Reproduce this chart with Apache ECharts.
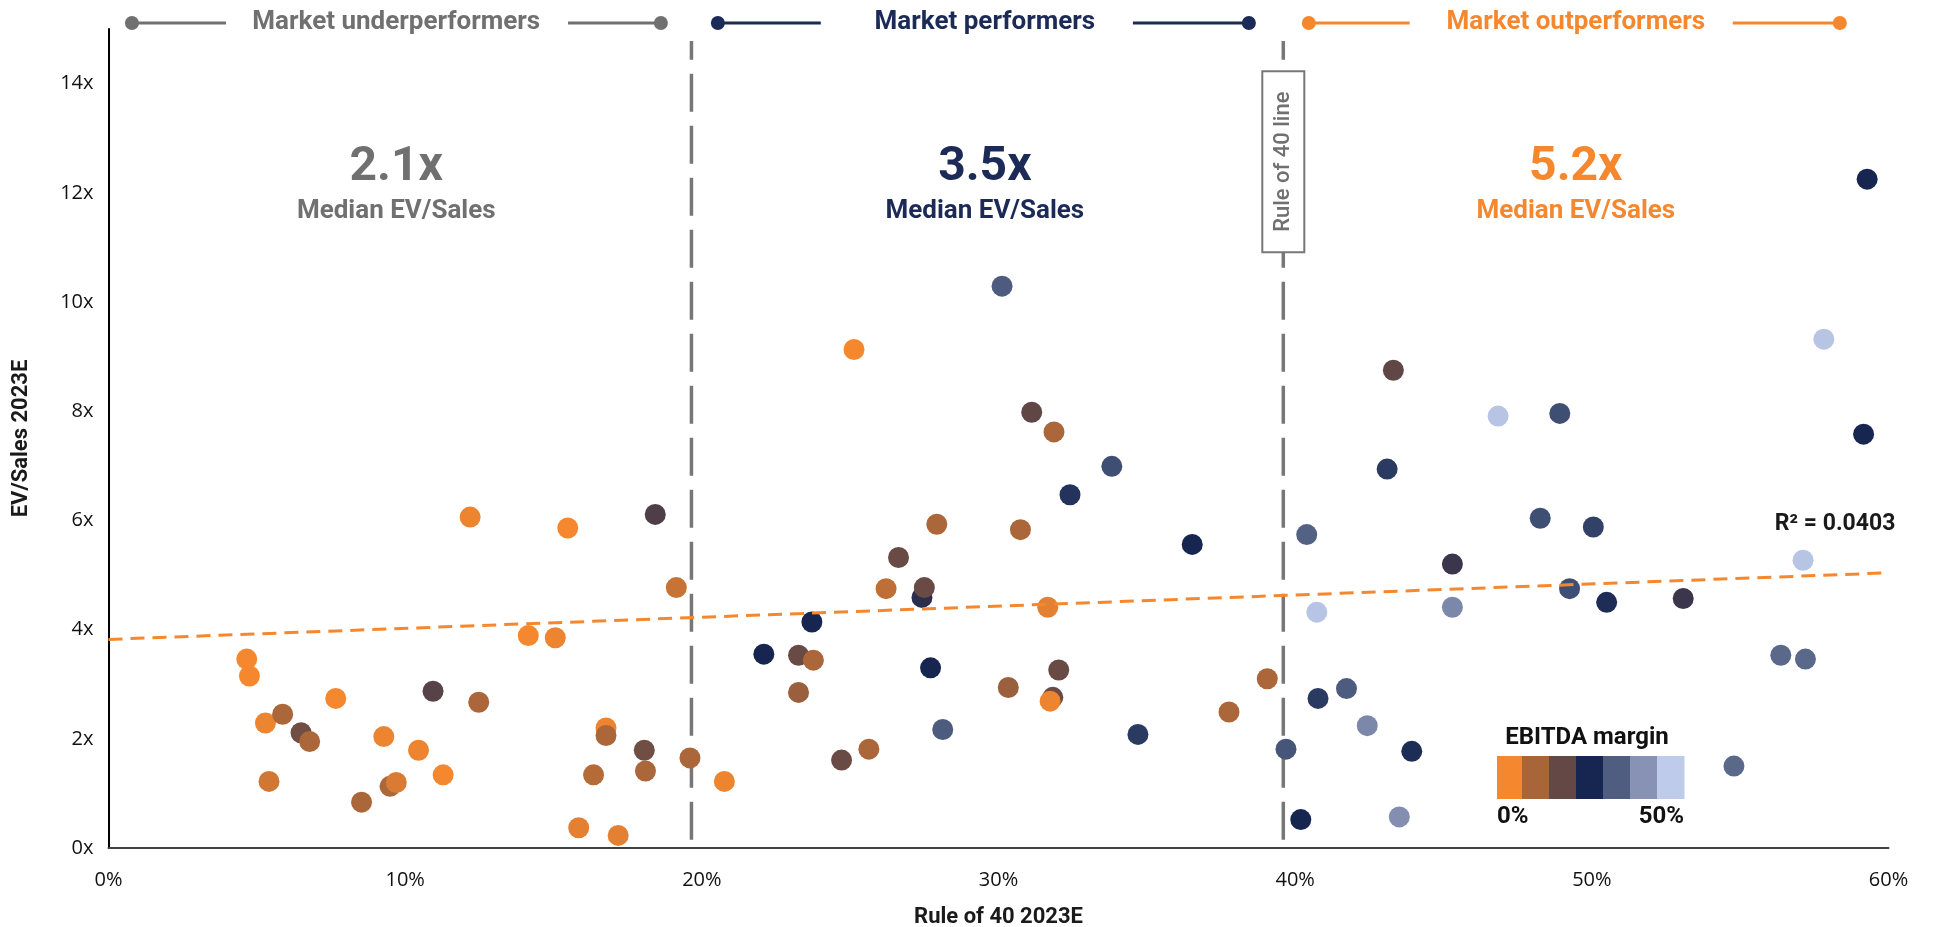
<!DOCTYPE html>
<html>
<head>
<meta charset="utf-8">
<script src="https://cdn.jsdelivr.net/npm/echarts@6/dist/echarts.min.js"></script>
<style>
  html, body { margin: 0; padding: 0; background: #ffffff; }
  #chart { width: 1935px; height: 927px; }
</style>
</head>
<body>
<div id="chart"></div>
<script>
// Rule of 40 score 2023E (%), one entry per company
const rule40 = [
  4.66, 4.75, 5.29, 5.41, 5.87, 6.49, 6.78, 7.66, 8.53, 9.28,
  9.49, 9.70, 10.45, 10.94, 11.28, 12.19, 12.48, 14.15, 15.06, 15.48,
  15.85, 16.35, 16.77, 16.77, 17.18, 18.06, 18.10, 18.43, 19.14, 19.60,
  20.76, 22.09, 23.26, 23.26, 23.71, 23.76, 24.71, 25.13, 25.63, 26.21,
  26.63, 27.42, 27.50, 27.71, 27.92, 28.12, 30.12, 30.33, 30.74, 31.12,
  31.66, 31.83, 31.74, 31.87, 32.03, 32.41, 33.82, 34.70, 36.53, 37.77,
  39.06, 39.69, 40.19, 40.39, 40.73, 40.77, 41.73, 42.43, 43.10, 43.31,
  43.51, 43.93, 45.30, 45.30, 46.84, 48.26, 48.92, 49.25, 50.05, 50.50,
  53.08, 54.79, 56.37, 57.20, 57.12, 57.82, 59.16, 59.28
];
// EV/Sales 2023E multiple, same order
const evSales = [
  3.46, 3.15, 2.29, 1.22, 2.45, 2.11, 1.95, 2.74, 0.84, 2.04,
  1.13, 1.20, 1.79, 2.87, 1.34, 6.06, 2.67, 3.89, 3.85, 5.86,
  0.37, 1.34, 2.20, 2.06, 0.23, 1.79, 1.41, 6.11, 4.77, 1.65,
  1.22, 3.55, 3.53, 2.85, 4.14, 3.44, 1.61, 9.13, 1.81, 4.75,
  5.32, 4.59, 4.77, 3.30, 5.93, 2.17, 10.29, 2.94, 5.83, 7.98,
  4.41, 2.76, 2.69, 7.62, 3.26, 6.47, 6.99, 2.08, 5.56, 2.49,
  3.10, 1.81, 0.52, 5.74, 4.32, 2.74, 2.92, 2.24, 6.94, 8.75,
  0.57, 1.77, 5.20, 4.41, 7.91, 6.04, 7.96, 4.75, 5.88, 4.50,
  4.57, 1.50, 3.53, 3.46, 5.27, 9.32, 7.58, 12.25
];
// EBITDA margin 2023E (%), same order
const ebitdaMargin = [
  0, 0, 1, 4, 8, 15, 8, 0, 8, 1,
  8, 3, 1, 18, 0, 1, 8, 0, 1, 0,
  2, 7, 1, 8, 2, 15, 8, 19, 5, 8,
  1, 25, 16, 10, 25, 8, 16, 0, 8, 6,
  16, 23, 16, 25, 8, 33, 33, 10, 8, 17,
  2, 16, 1, 8, 16, 27, 31, 28, 25, 8,
  8, 32, 25, 34, 49, 28, 33, 40, 28, 17,
  41, 26, 21, 40, 49, 31, 31, 31, 29, 26,
  21, 35, 35, 35, 49, 49, 25, 25
];

// Axis ticks
const xTickLabels = ['0%', '10%', '20%', '30%', '40%', '50%', '60%'];
const yTickLabels = ['0x', '2x', '4x', '6x', '8x', '10x', '12x', '14x'];

// Segments
const segmentNames = ['Market underperformers', 'Market performers', 'Market outperformers'];
const segmentMedians = ['2.1x', '3.5x', '5.2x'];
const segmentBounds = [19.65, 39.6];   // Rule of 40 split points (%)

// Linear trend of EV/Sales against Rule of 40
const trendStart = [0, 3.82];
const trendEnd = [60, 5.04];
const trendR2 = '0.0403';

// EBITDA margin colour ramp, 0% -> 50%
const marginColors = ['#f5882f', '#a8653a', '#634845', '#172650', '#4f5e80', '#8792b4', '#bfcbea'];
const segmentColors = ['#707070', '#1b2a56', '#f5882f'];

const chart = echarts.init(document.getElementById('chart'), null, { renderer: 'canvas' });

const points = rule40.map((x, i) => [x, evSales[i], ebitdaMargin[i]]);

const option = {
  backgroundColor: '#ffffff',
  animation: false,
  grid: { left: 108.5, right: 46.5, top: 29, bottom: 79, outerBoundsMode: 'none' },
  xAxis: {
    type: 'value', min: 0, max: 60, interval: 10,
    name: 'Rule of 40 2023E', nameLocation: 'middle', nameGap: 58,
    nameTextStyle: { fontFamily: 'Roboto', fontWeight: 'bold', fontSize: 22, color: '#1a1a1a' },
    axisLine: { show: true, lineStyle: { color: '#404040', width: 2 } },
    axisTick: { show: false },
    splitLine: { show: false },
    axisLabel: {
      margin: 22, fontFamily: 'Open Sans', fontSize: 20, color: '#111111',
      formatter: v => xTickLabels[Math.round(v / 10)] || ''
    }
  },
  yAxis: {
    type: 'value', min: 0, max: 15, interval: 2,
    name: 'EV/Sales 2023E', nameLocation: 'middle', nameGap: 76, nameRotate: 90,
    nameTextStyle: { fontFamily: 'Roboto', fontWeight: 'bold', fontSize: 22, color: '#1a1a1a' },
    axisLine: { show: true, lineStyle: { color: '#000000', width: 2 } },
    axisTick: { show: false },
    splitLine: { show: false },
    axisLabel: {
      margin: 15, fontFamily: 'Open Sans', fontSize: 20, color: '#111111',
      showMaxLabel: false,
      formatter: v => (v % 2 === 0 ? yTickLabels[v / 2] : '')
    }
  },
  visualMap: {
    show: false, type: 'continuous', seriesIndex: 0, dimension: 2,
    min: 0, max: 50, inRange: { color: marginColors }
  },
  series: [
    {
      name: 'Companies', type: 'scatter', data: points, symbolSize: 21, z: 3,
      itemStyle: { opacity: 1 }
    },
    {
      name: 'Boundary', type: 'line', symbol: 'none', z: 2, silent: true,
      data: [[segmentBounds[0], 0.15], [segmentBounds[0], 14.78]],
      lineStyle: { color: '#777777', width: 3.5, type: [38, 14] }
    },
    {
      name: 'Rule of 40 line', type: 'line', symbol: 'none', z: 2, silent: true,
      data: [[segmentBounds[1], 0.15], [segmentBounds[1], 14.78]],
      lineStyle: { color: '#777777', width: 3.5, type: [38, 14] }
    },
    {
      name: 'Trend', type: 'line', symbol: 'none', z: 4, silent: true,
      data: [trendStart, trendEnd],
      lineStyle: { color: '#f5882f', width: 3, type: [14, 8] }
    }
  ]
};

chart.setOption(option);

// Annotations placed in data coordinates
const px = (x, y) => chart.convertToPixel({ gridIndex: 0 }, [x, y]);
const headerY = 15.11;
const headerLayout = [
  { dots: [0.79, 18.62], gaps: [3.96, 15.49], mid: 9.7 },
  { dots: [20.54, 38.44], gaps: [24.01, 34.53], mid: 29.54 },
  { dots: [40.46, 58.36], gaps: [43.86, 54.75], mid: 49.46 }
];
const graphics = [];
headerLayout.forEach((h, i) => {
  const c = segmentColors[i];
  const [lx, y] = px(h.dots[0], headerY);
  const [lg] = px(h.gaps[0], headerY);
  const [rg] = px(h.gaps[1], headerY);
  const [rx] = px(h.dots[1], headerY);
  const [mx] = px(h.mid, headerY);
  graphics.push(
    { type: 'line', shape: { x1: lx, y1: y, x2: lg, y2: y }, style: { stroke: c, lineWidth: 3 }, z: 10 },
    { type: 'line', shape: { x1: rg, y1: y, x2: rx, y2: y }, style: { stroke: c, lineWidth: 3 }, z: 10 },
    { type: 'circle', shape: { cx: lx, cy: y, r: 7 }, style: { fill: c }, z: 10 },
    { type: 'circle', shape: { cx: rx, cy: y, r: 7 }, style: { fill: c }, z: 10 },
    { type: 'text', x: mx, y: y, z: 10,
      style: { text: segmentNames[i], fill: c, font: 'bold 26px Roboto', textAlign: 'center', textVerticalAlign: 'middle' } }
  );
  const [bx, by] = px(h.mid, 12.45);
  const [, sy] = px(h.mid, 11.65);
  graphics.push(
    { type: 'text', x: bx, y: by, z: 10,
      style: { text: segmentMedians[i], fill: c, font: 'bold 48px Roboto', textAlign: 'center', textVerticalAlign: 'middle' } },
    { type: 'text', x: bx, y: sy, z: 10,
      style: { text: 'Median EV/Sales', fill: c, font: 'bold 26px Roboto', textAlign: 'center', textVerticalAlign: 'middle' } }
  );
});

// Rule of 40 label box
const [rbx, rby] = px(segmentBounds[1], 12.57);
graphics.push(
  { type: 'rect', shape: { x: rbx - 21, y: rby - 90.5, width: 42, height: 181 },
    style: { fill: '#ffffff', stroke: '#777777', lineWidth: 2 }, z: 11 },
  { type: 'text', x: rbx, y: rby, rotation: Math.PI / 2, z: 12,
    style: { text: 'Rule of 40 line', fill: '#707070', font: '500 22px Roboto', textAlign: 'center', textVerticalAlign: 'middle' } }
);

// R² label at the end of the trend line
const [r2x, r2y] = px(58.2, 5.93);
graphics.push({ type: 'text', x: r2x, y: r2y, z: 12,
  style: { text: 'R² = ' + trendR2, fill: '#1a1a1a', font: 'bold 23px Roboto', textAlign: 'center', textVerticalAlign: 'middle' } });

// EBITDA margin legend
const legendLeft = 1497, legendTop = 756, legendH = 43;
const blockEdges = [0, 25, 52, 79, 106, 133, 160, 187];
marginColors.forEach((col, i) => {
  graphics.push({ type: 'rect', z: 12,
    shape: { x: legendLeft + blockEdges[i], y: legendTop, width: blockEdges[i + 1] - blockEdges[i] + 0.5, height: legendH },
    style: { fill: col } });
});
graphics.push(
  { type: 'text', x: legendLeft + 90, y: legendTop - 18, z: 12,
    style: { text: 'EBITDA margin', fill: '#111111', font: 'bold 24px Roboto', textAlign: 'center', textVerticalAlign: 'middle' } },
  { type: 'text', x: legendLeft, y: legendTop + legendH + 18, z: 12,
    style: { text: '0%', fill: '#111111', font: 'bold 24px Roboto', textAlign: 'left', textVerticalAlign: 'middle' } },
  { type: 'text', x: legendLeft + 187, y: legendTop + legendH + 18, z: 12,
    style: { text: '50%', fill: '#111111', font: 'bold 24px Roboto', textAlign: 'right', textVerticalAlign: 'middle' } }
);

chart.setOption({ graphic: graphics });
</script>
</body>
</html>
